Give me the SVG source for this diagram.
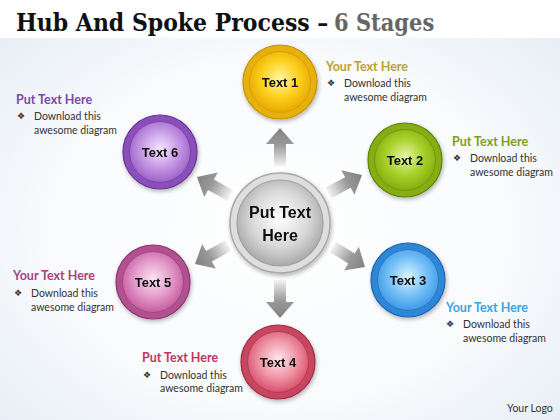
<svg xmlns="http://www.w3.org/2000/svg" xmlns:xlink="http://www.w3.org/1999/xlink" width="560" height="420" viewBox="0 0 560 420">
<defs>
<radialGradient id="bg" cx="50%" cy="55%" r="70%">
<stop offset="0" stop-color="#ffffff"/><stop offset="0.6" stop-color="#f8fafc"/><stop offset="1" stop-color="#e6edf5"/>
</radialGradient>
<linearGradient id="arr" x1="0" y1="0" x2="0" y2="1">
<stop offset="0" stop-color="#808080"/><stop offset="0.45" stop-color="#9a9a9a"/><stop offset="1" stop-color="#f2f2f2"/>
</linearGradient>
<path id="arrow" d="M0,0 L14,16 L6,16 L6,38 L-6,38 L-6,16 L-14,16 Z"/>
<radialGradient id="gC" cx="50%" cy="45%" r="55%"><stop offset="0" stop-color="#ffffff"/><stop offset="0.6" stop-color="#d8d8d8"/><stop offset="1" stop-color="#a9a9a9"/></radialGradient>
<radialGradient id="g1" cx="50%" cy="45%" r="55%"><stop offset="0" stop-color="#fff6a8"/><stop offset="0.55" stop-color="#fcd11e"/><stop offset="1" stop-color="#e9a800"/></radialGradient>
<radialGradient id="g2" cx="50%" cy="45%" r="55%"><stop offset="0" stop-color="#e6f7a8"/><stop offset="0.55" stop-color="#a9d12c"/><stop offset="1" stop-color="#84ae0e"/></radialGradient>
<radialGradient id="g3" cx="50%" cy="45%" r="55%"><stop offset="0" stop-color="#dff3ff"/><stop offset="0.55" stop-color="#78c2f8"/><stop offset="1" stop-color="#3e9ae6"/></radialGradient>
<radialGradient id="g4" cx="50%" cy="45%" r="55%"><stop offset="0" stop-color="#ffe6ec"/><stop offset="0.55" stop-color="#f097a8"/><stop offset="1" stop-color="#d8506c"/></radialGradient>
<radialGradient id="g5" cx="50%" cy="45%" r="55%"><stop offset="0" stop-color="#fbe4f3"/><stop offset="0.55" stop-color="#e49bcb"/><stop offset="1" stop-color="#c45c9f"/></radialGradient>
<radialGradient id="g6" cx="50%" cy="45%" r="55%"><stop offset="0" stop-color="#f4e8fc"/><stop offset="0.55" stop-color="#c79ae6"/><stop offset="1" stop-color="#9c62c9"/></radialGradient>
<filter id="sh" x="-20%" y="-20%" width="140%" height="140%"><feGaussianBlur in="SourceAlpha" stdDeviation="2"/><feOffset dx="1" dy="2"/><feComponentTransfer><feFuncA type="linear" slope="0.3"/></feComponentTransfer><feMerge><feMergeNode/><feMergeNode in="SourceGraphic"/></feMerge></filter>
<style>
.ttl{font-family:"DejaVu Serif",serif;font-weight:bold;font-size:22px;fill:#111}
.ttl2{fill:#666;font-size:21px}
.nt{font-family:"Liberation Sans",Arial,sans-serif;font-weight:bold;font-size:13px;fill:#111;text-anchor:middle}
.ct{font-family:"Liberation Sans",Arial,sans-serif;font-weight:bold;font-size:16px;fill:#111;text-anchor:middle}
.lh{font-family:Lato,"Liberation Sans",sans-serif;font-weight:bold;font-size:12.5px}
.lb{font-family:Lato,"Liberation Sans",sans-serif;font-size:10.5px;fill:#333}
.bu{font-family:"DejaVu Sans",sans-serif;font-size:9px;fill:#333}
.arw{fill:url(#arr)}
</style>
</defs>
<rect x="0" y="0" width="560" height="420" fill="url(#bg)"/>
<rect x="0" y="0" width="560" height="38" fill="#ffffff"/>
<text class="ttl" transform="translate(16,31) scale(1,1.13)" x="0" y="0">Hub And Spoke Process –</text>
<text class="ttl ttl2" transform="translate(334,31) scale(1,1.18)" x="0" y="0">6 Stages</text>

<g id="connectors">
<use xlink:href="#arrow" class="arw" transform="translate(280,128)"/>
<use xlink:href="#arrow" class="arw" transform="translate(362,175) rotate(62)"/>
<use xlink:href="#arrow" class="arw" transform="translate(365,267) rotate(122)"/>
<use xlink:href="#arrow" class="arw" transform="translate(280,318) rotate(180)"/>
<use xlink:href="#arrow" class="arw" transform="translate(195,264) rotate(241)"/>
<use xlink:href="#arrow" class="arw" transform="translate(197,177) rotate(299)"/>
</g>

<g id="center" filter="url(#sh)">
<circle cx="280" cy="223" r="50" fill="#dedede" stroke="#a8a8a8" stroke-width="1.5"/>
<circle cx="280" cy="223" r="43" fill="url(#gC)" stroke="#a0a0a0" stroke-width="1.2"/>
<text class="ct" x="280" y="218">Put Text</text>
<text class="ct" x="280" y="241">Here</text>
</g>

<g id="node1" filter="url(#sh)">
<circle cx="280" cy="82" r="37" fill="#e6b00c" stroke="#c49200" stroke-width="1.2"/>
<circle cx="280" cy="82" r="30.5" fill="url(#g1)" stroke="#d6a000" stroke-width="1"/>
<text class="nt" x="280" y="87">Text 1</text>
</g>
<g id="node2" filter="url(#sh)">
<circle cx="405" cy="160" r="37" fill="#86ad12" stroke="#5f8200" stroke-width="1.2"/>
<circle cx="405" cy="160" r="30.5" fill="url(#g2)" stroke="#74990a" stroke-width="1"/>
<text class="nt" x="405" y="165">Text 2</text>
</g>
<g id="node3" filter="url(#sh)">
<circle cx="408" cy="280" r="37" fill="#2f86d6" stroke="#1f64b0" stroke-width="1.2"/>
<circle cx="408" cy="280" r="30.5" fill="url(#g3)" stroke="#2a78c8" stroke-width="1"/>
<text class="nt" x="408" y="285">Text 3</text>
</g>
<g id="node4" filter="url(#sh)">
<circle cx="278" cy="362" r="37" fill="#c84660" stroke="#a02a44" stroke-width="1.2"/>
<circle cx="278" cy="362" r="30.5" fill="url(#g4)" stroke="#b83a54" stroke-width="1"/>
<text class="nt" x="278" y="367">Text 4</text>
</g>
<g id="node5" filter="url(#sh)">
<circle cx="153" cy="282" r="37" fill="#b25190" stroke="#8c3470" stroke-width="1.2"/>
<circle cx="153" cy="282" r="30.5" fill="url(#g5)" stroke="#a44684" stroke-width="1"/>
<text class="nt" x="153" y="287">Text 5</text>
</g>
<g id="node6" filter="url(#sh)">
<circle cx="160" cy="152" r="37" fill="#8a4fba" stroke="#6a3496" stroke-width="1.2"/>
<circle cx="160" cy="152" r="30.5" fill="url(#g6)" stroke="#7e44ae" stroke-width="1"/>
<text class="nt" x="160" y="157">Text 6</text>
</g>

<g id="label1">
<text class="lh" x="326" y="71" fill="#bca234">Your Text Here</text>
<text class="bu" x="327" y="86">❖</text>
<text class="lb" x="344" y="87">Download this</text>
<text class="lb" x="344" y="101">awesome diagram</text>
</g>
<g id="label2">
<text class="lh" x="452" y="146" fill="#7e9e1c">Put Text Here</text>
<text class="bu" x="453" y="161">❖</text>
<text class="lb" x="470" y="162">Download this</text>
<text class="lb" x="470" y="176">awesome diagram</text>
</g>
<g id="label3">
<text class="lh" x="446" y="312" fill="#3ea4e2">Your Text Here</text>
<text class="bu" x="446" y="327">❖</text>
<text class="lb" x="463" y="328">Download this</text>
<text class="lb" x="463" y="342">awesome diagram</text>
</g>
<g id="label4">
<text class="lh" x="142" y="362" fill="#c2355a">Put Text Here</text>
<text class="bu" x="143" y="378">❖</text>
<text class="lb" x="160" y="379">Download this</text>
<text class="lb" x="160" y="392">awesome diagram</text>
</g>
<g id="label5">
<text class="lh" x="13" y="280" fill="#a4457c">Your Text Here</text>
<text class="bu" x="14" y="296">❖</text>
<text class="lb" x="31" y="297">Download this</text>
<text class="lb" x="31" y="311">awesome diagram</text>
</g>
<g id="label6">
<text class="lh" x="16" y="104" fill="#7b48a6">Put Text Here</text>
<text class="bu" x="17" y="119">❖</text>
<text class="lb" x="34" y="120">Download this</text>
<text class="lb" x="34" y="134">awesome diagram</text>
</g>
<text class="lb" x="507" y="412" style="font-size:10.5px">Your Logo</text>
</svg>
